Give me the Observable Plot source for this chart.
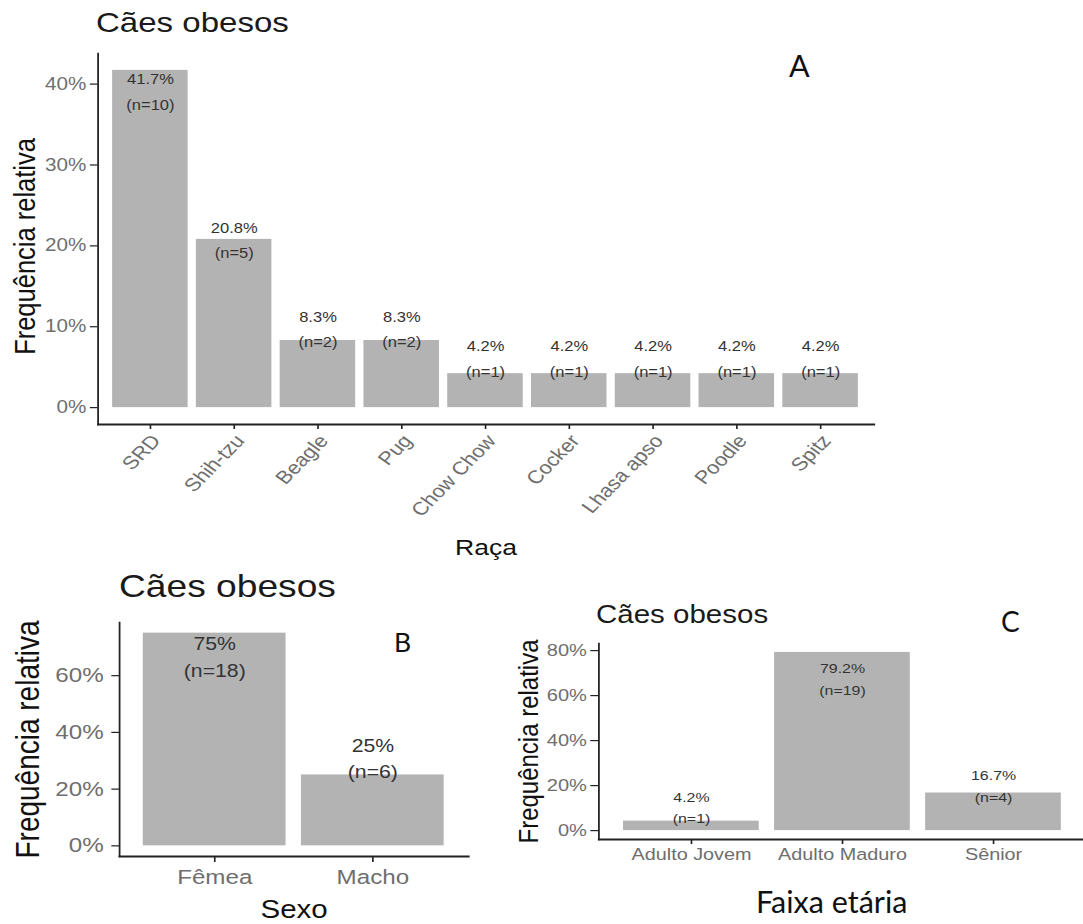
<!DOCTYPE html>
<html><head><meta charset="utf-8">
<script src="https://cdn.jsdelivr.net/npm/d3@7"></script>
<script src="https://cdn.jsdelivr.net/npm/@observablehq/plot@0.6"></script>
<style>
html,body{margin:0;padding:0;background:#fff;overflow:hidden;width:1083px;height:924px;position:relative;}
#stage{position:absolute;left:0;top:0;width:918px;height:924px;transform:scaleX(1.18);transform-origin:0 0;}
.title{position:absolute;font-family:"Liberation Sans",Arial,sans-serif;color:#1a1a1a;white-space:nowrap;line-height:1;}
.tag{position:absolute;font-family:Lato,"Open Sans",sans-serif;color:#111;white-space:nowrap;line-height:1;}
</style></head>
<body>
<div id="stage"></div>
<script>
// ---- data ----
const racaCats = ["SRD", "Shih-tzu", "Beagle", "Pug", "Chow Chow", "Cocker", "Lhasa apso", "Poodle", "Spitz"];
const racaPct = [41.7, 20.8, 8.3, 8.3, 4.2, 4.2, 4.2, 4.2, 4.2];
const racaN = [10, 5, 2, 2, 1, 1, 1, 1, 1];
const racaTicks = [0, 10, 20, 30, 40];

const sexoCats = ["Fêmea", "Macho"];
const sexoPct = [75, 25];
const sexoN = [18, 6];
const sexoTicks = [0, 20, 40, 60];

const idadeCats = ["Adulto Jovem", "Adulto Maduro", "Sênior"];
const idadePct = [4.2, 79.2, 16.7];
const idadeN = [1, 19, 4];
const idadeTicks = [0, 20, 40, 60, 80];

const titleText = "Cães obesos";
const yTitleText = "Frequência relativa";

// ---- layout helpers ----
const S = 1.18; // horizontal stretch of the original figure
const stage = document.getElementById("stage");

function addTitle(text, leftOrig, baseline, size) {
  const d = document.createElement("div");
  d.className = "title";
  d.textContent = text;
  d.style.fontSize = size + "px";
  d.style.left = (leftOrig / S) + "px";
  d.style.top = (baseline - 0.8465 * size) + "px";
  stage.appendChild(d);
}
function addTag(text, left, baseline, size) {
  const d = document.createElement("div");
  d.className = "tag";
  d.textContent = text;
  d.style.fontSize = size + "px";
  d.style.left = left + "px";
  d.style.top = (baseline - 0.887 * size) + "px";
  document.body.appendChild(d);
}

function panel(c) {
  const data = c.cats.map((cat, i) => ({cat, pct: c.pct[i], n: c.n[i]}));
  const max = d3.max(c.pct);
  const marks = [
    Plot.barY(data, {x: "cat", y: "pct", fill: "#b3b3b3"}),
    Plot.text(data, {
      x: "cat",
      y: d => c.labA * d.pct + c.labB,
      text: d => `${d.pct}%\n(n=${d.n})`,
      fontSize: c.barFont, lineHeight: c.lineH, fill: "#333"
    }),
    Plot.axisY({ticks: c.ticks, tickFormat: d => d + "%", fontSize: c.yTickFont,
      tickSize: c.yTickSize, tickPadding: c.yTickPad, fill: "#6e6e6e", stroke: "#222", strokeWidth: 1.2, label: null}),
    Plot.axisX({tickSize: c.xTickSize, stroke: "#222", strokeWidth: 1.4, text: null, label: null}),
    Plot.axisX({tickRotate: c.rotate, fontSize: c.xTickFont, tickSize: 0,
      tickPadding: c.xTickPad, dx: c.xTickDx, fill: "#6e6e6e", label: null}),
    Plot.frame({anchor: "left", stroke: "#222", strokeWidth: 1.5}),
    Plot.frame({anchor: "bottom", stroke: "#222", strokeWidth: 1.8}),
    Plot.text([c.yTitle], {frameAnchor: "left", rotate: -90, textAnchor: "middle", lineAnchor: "middle",
      dx: (c.yTitleX - c.frameLeft) / S, dy: c.yTitleDy, fontSize: c.yTitleFont, fill: "#111"})
  ];
  if (c.xTitle) marks.push(Plot.text([c.xTitle], {frameAnchor: "bottom", textAnchor: "middle", lineAnchor: "middle",
      dy: c.xTitleY - c.frameBottom, fontSize: c.xTitleFont, fill: "#111"}));
  const p = Plot.plot({
    width: c.svgWidth / S,
    height: c.height,
    marginLeft: (c.frameLeft - c.svgLeft) / S,
    marginRight: (c.svgLeft + c.svgWidth - c.frameRight) / S,
    marginTop: c.frameTop - c.svgTop,
    marginBottom: c.svgTop + c.height - c.frameBottom,
    style: {fontFamily: "'Liberation Sans', Arial, sans-serif", background: "transparent", overflow: "visible"},
    x: {domain: c.cats, paddingInner: 0.1, paddingOuter: 0.15},
    y: {domain: [-0.05 * max, 1.05 * max]},
    marks
  });
  p.style.position = "absolute";
  p.style.left = (c.svgLeft / S) + "px";
  p.style.top = c.svgTop + "px";
  stage.appendChild(p);
}

// Panel A – Raça
panel({
  cats: racaCats, pct: racaPct, n: racaN, ticks: racaTicks,
  svgLeft: 0, svgTop: 40, svgWidth: 900, height: 520,
  frameLeft: 97.5, frameRight: 873.5, frameTop: 53, frameBottom: 424,
  labA: 0.88, labB: 2.7, barFont: 14, lineH: 1.8,
  yTickFont: 17.5, yTickSize: 6.5, yTickPad: 3.5,
  xTickFont: 18.5, xTickSize: 5, xTickPad: 13, xTickDx: 5, rotate: -50,
  yTitle: yTitleText, yTitleX: 25, yTitleDy: 7.5, yTitleFont: 25.5,
  xTitle: "Raça", xTitleY: 547, xTitleFont: 22.5
});

// Panel B – Sexo
panel({
  cats: sexoCats, pct: sexoPct, n: sexoN, ticks: sexoTicks,
  svgLeft: 0, svgTop: 600, svgWidth: 500, height: 324,
  frameLeft: 119, frameRight: 468, frameTop: 622, frameBottom: 856,
  labA: 0.718, labB: 13.6, barFont: 18, lineH: 1.5,
  yTickFont: 20.5, yTickSize: 6.5, yTickPad: 7,
  xTickFont: 20.5, xTickSize: 6, xTickPad: 13, xTickDx: 0, rotate: 0,
  yTitle: yTitleText, yTitleX: 28, yTitleDy: 0, yTitleFont: 28,
  xTitle: "Sexo", xTitleY: 910, xTitleFont: 25
});

// Panel C – Faixa etária
panel({
  cats: idadeCats, pct: idadePct, n: idadeN, ticks: idadeTicks,
  svgLeft: 500, svgTop: 630, svgWidth: 590, height: 250,
  frameLeft: 598, frameRight: 1085, frameTop: 643, frameBottom: 839,
  labA: 0.762, labB: 7.9, barFont: 13.5, lineH: 1.6,
  yTickFont: 17, yTickSize: 6.8, yTickPad: 3.4,
  xTickFont: 16.8, xTickSize: 5, xTickPad: 9, xTickDx: 0, rotate: 0,
  yTitle: yTitleText, yTitleX: 528, yTitleDy: 0, yTitleFont: 24,
  xTitle: null
});

addTitle(titleText, 96, 33, 28);
addTitle(titleText, 119, 598, 31.5);
addTitle(titleText, 596, 623, 25);

addTag("A", 789, 77, 30.5);
addTag("B", 394, 653, 26.5);
addTag("C", 1001, 632, 28);
addTag("Faixa etária", 756, 913, 30.5);
</script>
</body></html>
